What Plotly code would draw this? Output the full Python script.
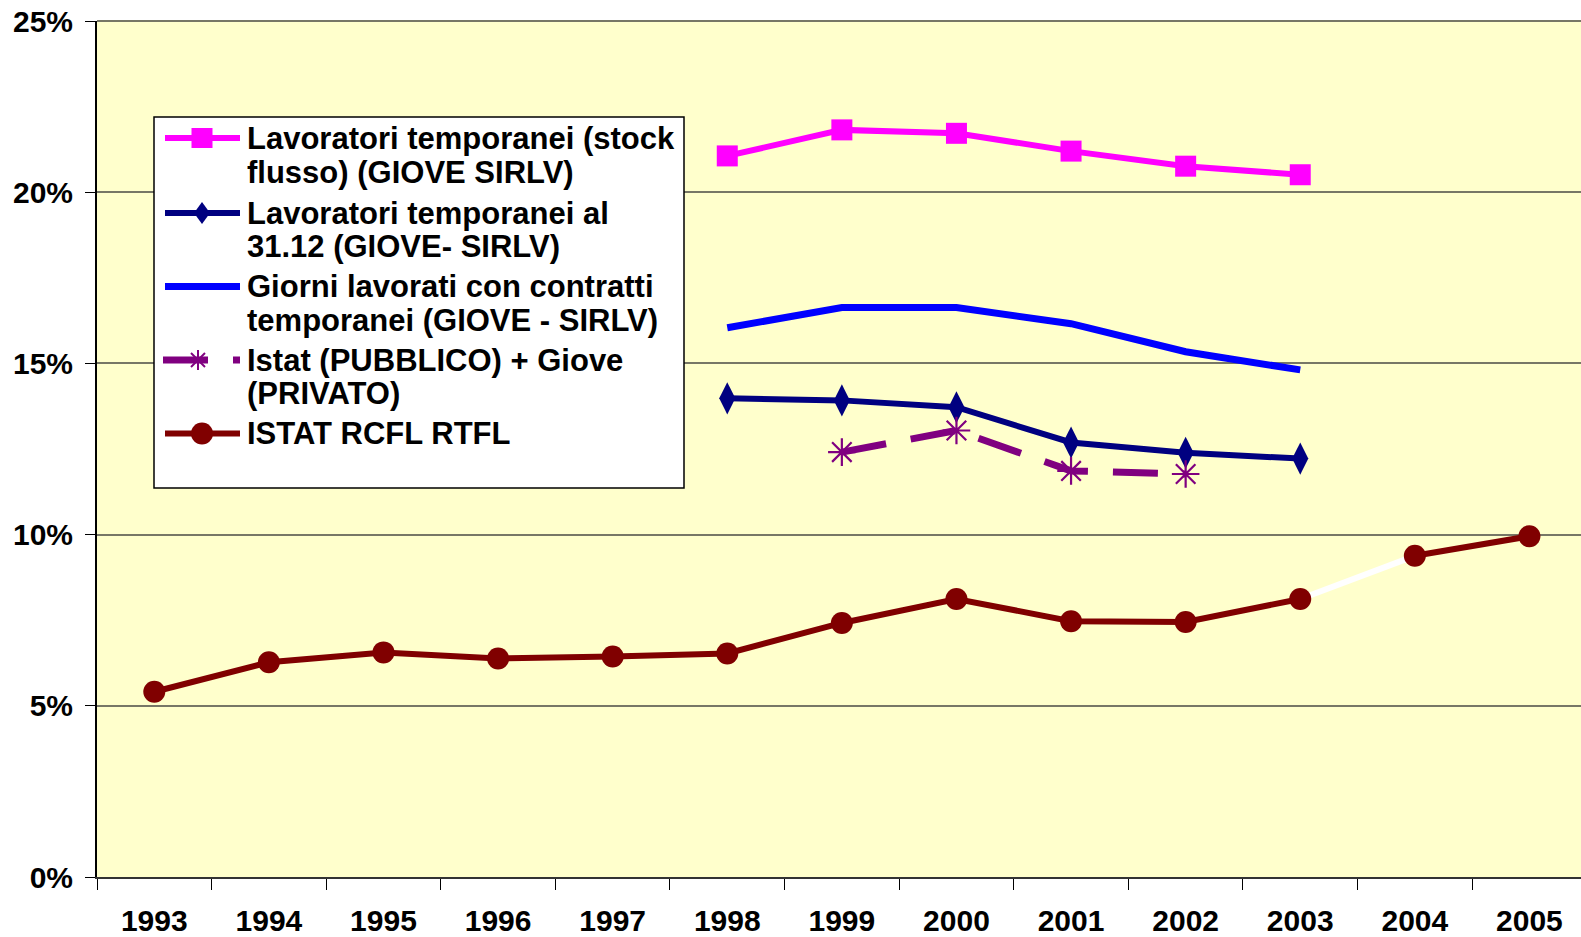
import plotly.graph_objects as go

# ---------------- data ----------------
years = ["1993", "1994", "1995", "1996", "1997", "1998", "1999",
         "2000", "2001", "2002", "2003", "2004", "2005"]

stock_years = ["1998", "1999", "2000", "2001", "2002", "2003"]
stock_flusso = [21.06, 21.82, 21.72, 21.20, 20.76, 20.51]

fine_anno = [13.98, 13.92, 13.72, 12.69, 12.39, 12.22]

giorni = [16.04, 16.63, 16.63, 16.16, 15.34, 14.81]

pub_years = ["1999", "2000", "2001", "2002"]
pubblico_privato = [12.41, 13.04, 11.86, 11.77]

istat_rcfl = [5.41, 6.27, 6.56, 6.38, 6.44, 6.53, 7.42, 8.12, 7.47, 7.45,
              8.12, 9.38, 9.95]

legend_labels = [
    ["Lavoratori temporanei (stock", "flusso) (GIOVE SIRLV)"],
    ["Lavoratori temporanei al", "31.12 (GIOVE- SIRLV)"],
    ["Giorni lavorati con contratti", "temporanei (GIOVE - SIRLV)"],
    ["Istat (PUBBLICO) + Giove", "(PRIVATO)"],
    ["ISTAT RCFL RTFL"],
]

# ---------------- styles ----------------
PINK = "#FF00FF"
NAVY = "#000080"
BLUE = "#0000FF"
PURPLE = "#800080"
RED = "#800000"
FONT = "Arial, Liberation Sans, sans-serif"

W, H = 1581, 937
L, R, T, B = 97, 0, 21, 60
PW = W - L - R
PH = H - T - B


def px2x(px):
    return (px - L) / PW


def py2y(py):
    return (H - B - py) / PH


fig = go.Figure()

fig.add_trace(go.Scatter(x=stock_years, y=stock_flusso, mode="lines+markers",
                         line=dict(color=PINK, width=6),
                         marker=dict(symbol="square", size=21, color=PINK),
                         showlegend=False))
fig.add_trace(go.Scatter(x=stock_years, y=giorni, mode="lines",
                         line=dict(color=BLUE, width=7),
                         showlegend=False))
fig.add_trace(go.Scatter(x=stock_years, y=fine_anno, mode="lines+markers",
                         line=dict(color=NAVY, width=6),
                         marker=dict(symbol="diamond-tall", size=23, color=NAVY),
                         showlegend=False))
fig.add_trace(go.Scatter(x=pub_years, y=pubblico_privato, mode="lines+markers",
                         line=dict(color=PURPLE, width=7, dash="45px,25px"),
                         marker=dict(symbol="asterisk-open", size=23,
                                     line=dict(color=PURPLE, width=2.2)),
                         showlegend=False))
# white connecting segment 2003-2004
fig.add_trace(go.Scatter(x=years[10:12], y=istat_rcfl[10:12], mode="lines",
                         line=dict(color="white", width=6),
                         showlegend=False))
fig.add_trace(go.Scatter(x=years[:11], y=istat_rcfl[:11], mode="lines+markers",
                         line=dict(color=RED, width=6),
                         marker=dict(symbol="circle", size=22, color=RED),
                         showlegend=False))
fig.add_trace(go.Scatter(x=years[11:], y=istat_rcfl[11:], mode="lines+markers",
                         line=dict(color=RED, width=6),
                         marker=dict(symbol="circle", size=22, color=RED),
                         showlegend=False))

# ---------------- custom legend ----------------
shapes = []
annotations = []
shapes.append(dict(type="rect", xref="paper", yref="paper", layer="above",
                   x0=px2x(154), x1=px2x(684), y0=py2y(488), y1=py2y(117),
                   fillcolor="white", line=dict(color="black", width=1.5)))

row_centers = [[138, 172.5], [213, 246], [286.5, 320.5], [360, 393.5], [433.5]]
sym_x0, sym_x1, sym_c = 165, 240, 202
text_x = 245

for i, rows in enumerate(row_centers):
    yc = rows[0]
    if i == 0:
        shapes.append(dict(type="line", xref="paper", yref="paper",
                           x0=px2x(sym_x0), x1=px2x(sym_x1), y0=py2y(yc), y1=py2y(yc),
                           line=dict(color=PINK, width=6)))
        shapes.append(dict(type="rect", xref="paper", yref="paper",
                           x0=px2x(sym_c - 10.5), x1=px2x(sym_c + 10.5),
                           y0=py2y(yc + 10), y1=py2y(yc - 10),
                           fillcolor=PINK, line=dict(width=0)))
    elif i == 1:
        shapes.append(dict(type="line", xref="paper", yref="paper",
                           x0=px2x(sym_x0), x1=px2x(sym_x1), y0=py2y(yc), y1=py2y(yc),
                           line=dict(color=NAVY, width=6)))
        path = "M {} {} L {} {} L {} {} L {} {} Z".format(
            px2x(sym_c - 8), py2y(yc), px2x(sym_c), py2y(yc - 11),
            px2x(sym_c + 8), py2y(yc), px2x(sym_c), py2y(yc + 11))
        shapes.append(dict(type="path", xref="paper", yref="paper", path=path,
                           fillcolor=NAVY, line=dict(width=0)))
    elif i == 2:
        shapes.append(dict(type="line", xref="paper", yref="paper",
                           x0=px2x(sym_x0), x1=px2x(sym_x1), y0=py2y(yc), y1=py2y(yc),
                           line=dict(color=BLUE, width=7)))
    elif i == 3:
        shapes.append(dict(type="line", xref="paper", yref="paper",
                           x0=px2x(sym_x0 - 2), x1=px2x(sym_x1), y0=py2y(yc), y1=py2y(yc),
                           line=dict(color=PURPLE, width=7, dash="45px,25px")))
        ac = 198
        for dx, dy in [(10, 0), (0, 10), (7, 7), (7, -7)]:
            shapes.append(dict(type="line", xref="paper", yref="paper",
                               x0=px2x(ac - dx), x1=px2x(ac + dx),
                               y0=py2y(yc - dy), y1=py2y(yc + dy),
                               line=dict(color=PURPLE, width=2)))
    else:
        shapes.append(dict(type="line", xref="paper", yref="paper",
                           x0=px2x(sym_x0), x1=px2x(sym_x1), y0=py2y(yc), y1=py2y(yc),
                           line=dict(color=RED, width=6)))
        shapes.append(dict(type="circle", xref="paper", yref="paper",
                           x0=px2x(sym_c - 11), x1=px2x(sym_c + 11),
                           y0=py2y(yc + 11), y1=py2y(yc - 11),
                           fillcolor=RED, line=dict(width=0)))
    for j, yr in enumerate(rows):
        annotations.append(dict(xref="paper", yref="paper", x=px2x(text_x), y=py2y(yr),
                                xanchor="left", yanchor="middle", showarrow=False,
                                text=legend_labels[i][j],
                                font=dict(family=FONT, size=31, color="black",
                                          weight="bold")))

# top border line of plot area (25% gridline)
shapes.append(dict(type="line", xref="paper", yref="paper", layer="below",
                   x0=0, x1=1, y0=1, y1=1, line=dict(color="#777766", width=2)))

fig.update_layout(
    width=W, height=H,
    margin=dict(l=L, r=R, t=T, b=B, autoexpand=False),
    paper_bgcolor="white",
    plot_bgcolor="#FFFFCC",
    shapes=shapes,
    annotations=annotations,
    showlegend=False,
    font=dict(family=FONT, color="black"),
)

fig.update_xaxes(type="category", categoryorder="array", categoryarray=years,
                 range=[-0.5, 12.45], tickson="boundaries", ticks="outside",
                 ticklen=11, tickwidth=1, tickcolor="black", showgrid=False,
                 showline=True, linecolor="#333333", linewidth=2,
                 ticklabelstandoff=16, automargin=False,
                 tickfont=dict(family=FONT, size=30, color="black", weight="bold"))
fig.update_yaxes(range=[0, 25], dtick=5, ticksuffix="%", ticks="outside",
                 ticklen=10, tickwidth=1, tickcolor="black",
                 showgrid=True, gridcolor="#777766", gridwidth=2,
                 showline=True, linecolor="black", linewidth=2,
                 zeroline=False, ticklabelstandoff=6, automargin=False,
                 tickfont=dict(family=FONT, size=30, color="black", weight="bold"))

fig.write_html("out.html", config={"displayModeBar": False},
               post_script="document.body.style.margin='0px';"
                           "document.body.style.overflow='hidden';")
